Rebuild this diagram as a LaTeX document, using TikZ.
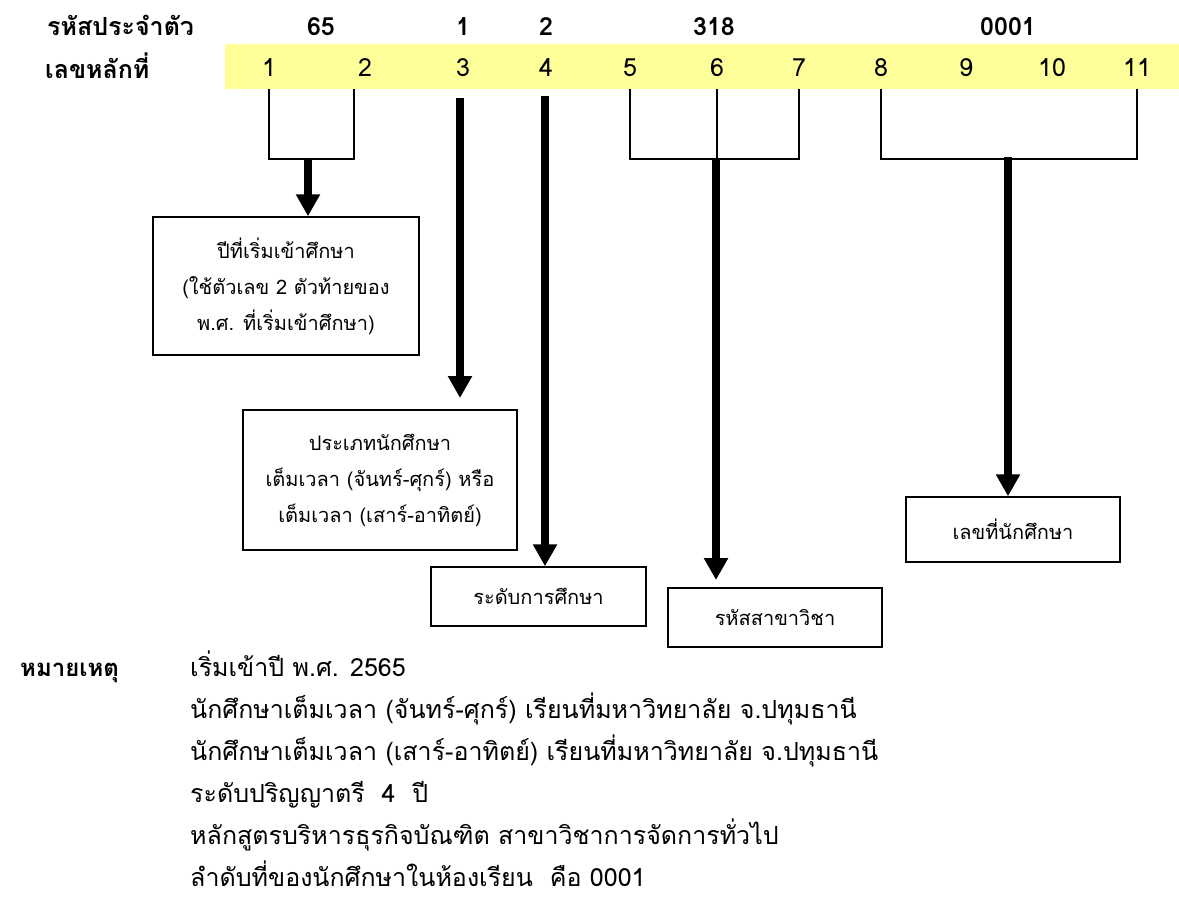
\documentclass[tikz,border=0pt]{standalone}
\usepackage{fontspec}
\setmainfont{Loma}[Script=Thai]
\usetikzlibrary{arrows.meta}
\definecolor{bandyellow}{RGB}{255,255,153}
\tikzset{
  lbl/.style={font=\fontsize{25}{28}\selectfont\bfseries, inner sep=0pt, anchor=base west},
  digit/.style={font=\fontsize{25}{28}\selectfont, inner sep=0pt, anchor=base},
  topnum/.style={font=\fontsize{25}{28}\selectfont\bfseries, inner sep=0pt, anchor=base},
  infobox/.style={draw, line width=1.5pt, align=center, inner sep=0pt, font=\fontsize{20}{36}\selectfont},
  bracket/.style={line width=1.3pt},
  bigarrow/.style={line width=8pt, -{Triangle[width=23pt,length=22pt]}},
  note/.style={anchor=base west, inner sep=0pt, font=\fontsize{25}{28}\selectfont},
}
\begin{document}
\begin{tikzpicture}[x=1pt,y=-1pt]
\useasboundingbox (0,0) rectangle (1179,899);
% band
\node[fill=bandyellow, minimum width=954pt, minimum height=45pt, inner sep=0pt, anchor=north west] (band) at (225,44) {};
% left labels
\node[lbl] (lid) at (47,36) {รหัสประจำตัว};
\node[lbl] (ldig) at (45,79) {เลขหลักที่};
% top numbers
\node[topnum] (n65) at (321,36) {65};
\node[topnum] (n1) at (463,36) {1};
\node[topnum] (n2) at (546,36) {2};
\node[topnum] (n318) at (714,36) {318};
\node[topnum] (n0001) at (1008,36) {0001};
% digits
\node[digit] (d1) at (269,77) {1};
\node[digit] (d2) at (365,77) {2};
\node[digit] (d3) at (463,77) {3};
\node[digit] (d4) at (546,77) {4};
\node[digit] (d5) at (630,77) {5};
\node[digit] (d6) at (717,77) {6};
\node[digit] (d7) at (799,77) {7};
\node[digit] (d8) at (881,77) {8};
\node[digit] (d9) at (966,77) {9};
\node[digit] (d10) at (1052,77) {10};
\node[digit] (d11) at (1137,77) {11};
% boxes
\node[infobox, minimum width=266pt, minimum height=138pt] (b1) at (286,286)
  {ปีที่เริ่มเข้าศึกษา\\(ใช้ตัวเลข 2 ตัวท้ายของ\\พ.ศ. ที่เริ่มเข้าศึกษา)};
\node[infobox, minimum width=274pt, minimum height=140pt] (b2) at (380,480)
  {ประเภทนักศึกษา\\เต็มเวลา (จันทร์-ศุกร์) หรือ\\เต็มเวลา (เสาร์-อาทิตย์)};
\node[infobox, minimum width=215pt, minimum height=59pt] (b3) at (538.5,596.5) {ระดับการศึกษา};
\node[infobox, minimum width=214pt, minimum height=59pt] (b4) at (775,617.5) {รหัสสาขาวิชา};
\node[infobox, minimum width=214pt, minimum height=65pt] (b5) at (1013,529.5) {เลขที่นักศึกษา};
% bracket 1-2
\coordinate (k1a) at (269,89);
\coordinate (k1b) at (354,89);
\draw[bracket] (k1a) -- (269,159) -- (354,159) -- (k1b);
\coordinate (j1) at (308,159);
\draw[bigarrow] (j1) -- (j1 |- b1.north);
% digit 3
\coordinate (s3) at (460,98);
\coordinate (e3) at (460,398);
\draw[bigarrow] (s3) -- (e3);
% digit 4
\coordinate (s4) at (545,96);
\draw[bigarrow] (s4) -- (s4 |- b3.north);
% bracket 5-7
\coordinate (k2a) at (630,89);
\coordinate (k2b) at (717,89);
\coordinate (k2c) at (799,89);
\draw[bracket] (k2a) -- (630,159) -- (799,159) -- (k2c);
\draw[bracket] (k2b) -- (717,159);
\coordinate (j2) at (716,158);
\coordinate (e4) at (716,580);
\draw[bigarrow] (j2) -- (e4);
% bracket 8-11
\coordinate (k3a) at (881,89);
\coordinate (k3b) at (1137,89);
\draw[bracket] (k3a) -- (881,159) -- (1137,159) -- (k3b);
\coordinate (j3) at (1008,157);
\draw[bigarrow] (j3) -- (j3 |- b5.north);
% notes
\node[anchor=base west, inner sep=0pt, font=\fontsize{24}{28}\selectfont\bfseries] (nh) at (20,676) {หมายเหตุ};
\node[note] (nl1) at (190,676) {เริ่มเข้าปี พ.ศ. 2565};
\node[note] (nl2) at (190,718) {นักศึกษาเต็มเวลา (จันทร์-ศุกร์) เรียนที่มหาวิทยาลัย จ.ปทุมธานี};
\node[note] (nl3) at (190,760) {นักศึกษาเต็มเวลา (เสาร์-อาทิตย์) เรียนที่มหาวิทยาลัย จ.ปทุมธานี};
\node[note] (nl4) at (190,802) {ระดับปริญญาตรี~ 4~ ปี};
\node[note] (nl5) at (190,844) {หลักสูตรบริหารธุรกิจบัณฑิต สาขาวิชาการจัดการทั่วไป};
\node[note] (nl6) at (190,886) {ลำดับที่ของนักศึกษาในห้องเรียน~ คือ 0001};
\end{tikzpicture}
\end{document}
